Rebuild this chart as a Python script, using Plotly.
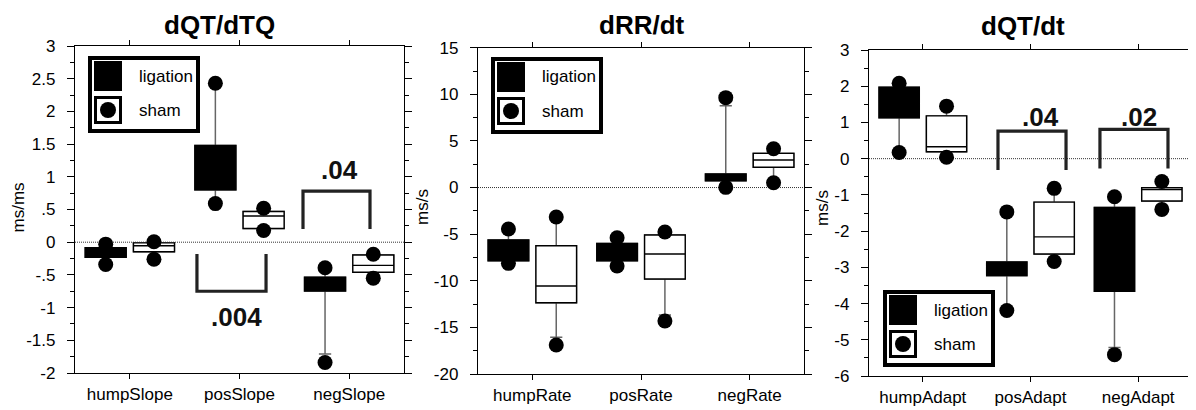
import plotly.graph_objects as go

# the page body adds an 8px offset; the figure is sized so it fills the window
OX, OY = 8, 8
W, H = 1196 - OX, 410 - OY
FONT = "Liberation Sans, Arial, sans-serif"

# ---------------- data ----------------
titles = ["dQT/dTQ", "dRR/dt", "dQT/dt"]
y_titles = ["ms/ms", "ms/s", "ms/s"]

cats_1 = ["humpSlope", "posSlope", "negSlope"]
cats_2 = ["humpRate", "posRate", "negRate"]
cats_3 = ["humpAdapt", "posAdapt", "negAdapt"]

# panel 1 : dQT/dTQ
lig1_q1 = [-0.23, 0.80, -0.746]
lig1_med = [-0.16, 1.10, -0.64]
lig1_q3 = [-0.085, 1.48, -0.537]
lig1_wlo = [-0.34, 0.59, -1.71]
lig1_whi = [-0.03, 2.43, -0.40]
lig1_dlo = [-0.34, 0.59, -1.84]
lig1_dhi = [-0.03, 2.43, -0.39]
sham1_q1 = [-0.145, 0.21, -0.46]
sham1_med = [-0.055, 0.40, -0.354]
sham1_q3 = [-0.01, 0.47, -0.196]
sham1_wlo = [-0.26, 0.18, -0.55]
sham1_whi = [0.007, 0.52, -0.185]
sham1_dlo = [-0.26, 0.18, -0.55]
sham1_dhi = [0.007, 0.52, -0.185]

# panel 2 : dRR/dt
lig2_q1 = [-7.85, -7.85, 0.73]
lig2_med = [-6.8, -7.0, 1.1]
lig2_q3 = [-5.63, -5.99, 1.45]
lig2_wlo = [-8.13, -8.42, 0.02]
lig2_whi = [-4.45, -5.38, 8.78]
lig2_dlo = [-8.13, -8.42, 0.02]
lig2_dhi = [-4.45, -5.38, 9.64]
sham2_q1 = [-12.35, -9.81, 2.17]
sham2_med = [-10.56, -7.13, 2.95]
sham2_q3 = [-6.24, -5.09, 3.67]
sham2_wlo = [-16.07, -13.67, 0.51]
sham2_whi = [-3.16, -4.77, 4.16]
sham2_dlo = [-16.89, -14.32, 0.51]
sham2_dhi = [-3.16, -4.77, 4.16]

# panel 3 : dQT/dt
lig3_q1 = [1.13, -3.23, -3.66]
lig3_med = [1.5, -3.0, -2.5]
lig3_q3 = [1.97, -2.85, -1.35]
lig3_wlo = [0.17, -4.19, -5.21]
lig3_whi = [2.08, -1.47, -1.05]
lig3_dlo = [0.17, -4.19, -5.41]
lig3_dhi = [2.08, -1.47, -1.05]
sham3_q1 = [0.19, -2.63, -1.17]
sham3_med = [0.33, -2.16, -0.85]
sham3_q3 = [1.18, -1.20, -0.80]
sham3_wlo = [0.04, -2.84, -1.40]
sham3_whi = [1.45, -0.82, -0.63]
sham3_dlo = [0.04, -2.84, -1.40]
sham3_dhi = [1.45, -0.82, -0.63]

# y tick labels
yt1_vals = [3, 2.5, 2, 1.5, 1, 0.5, 0, -0.5, -1, -1.5, -2]
yt1_text = ["3", "2.5", "2", "1.5", "1", ".5", "0", "-.5", "-1", "-1.5", "-2"]
yt2_vals = [15, 10, 5, 0, -5, -10, -15, -20]
yt2_text = ["15", "10", "5", "0", "-5", "-10", "-15", "-20"]
yt3_vals = [3, 2, 1, 0, -1, -2, -3, -4, -5, -6]
yt3_text = ["3", "2", "1", "0", "-1", "-2", "-3", "-4", "-5", "-6"]

# significance labels
sig1_labels = [".004", ".04"]
sig3_labels = [".04", ".02"]

# ---------------- layout config ----------------
panels = [
    dict(cats=cats_1, geom=(75, 404, 46, 373), yr=(-2, 3), minor=0.25,
         tv=yt1_vals, tt=yt1_text,
         lig=(lig1_q1, lig1_med, lig1_q3, lig1_wlo, lig1_whi, lig1_dlo, lig1_dhi),
         sham=(sham1_q1, sham1_med, sham1_q3, sham1_wlo, sham1_whi, sham1_dlo, sham1_dhi),
         title_px=(219, 25), ytitle_px=(8, 208, "left"), legend_px=(88, 56),
         brackets=[dict(x0=0.612, x1=1.242, ye=-0.18, yb=-0.75, lx=0.97, ly=-1.14),
                   dict(x0=1.579, x1=2.19, ye=0.2, yb=0.78, lx=1.916, ly=1.11)],
         sig=sig1_labels),
    dict(cats=cats_2, geom=(478, 804, 47.7, 374), yr=(-20, 15), minor=2.5,
         tv=yt2_vals, tt=yt2_text,
         lig=(lig2_q1, lig2_med, lig2_q3, lig2_wlo, lig2_whi, lig2_dlo, lig2_dhi),
         sham=(sham2_q1, sham2_med, sham2_q3, sham2_wlo, sham2_whi, sham2_dlo, sham2_dhi),
         title_px=(642, 25), ytitle_px=(422, 207, "center"), legend_px=(491, 57),
         brackets=[], sig=[]),
    dict(cats=cats_3, geom=(869, 1192, 50, 376), yr=(-6, 3), minor=0.5,
         tv=yt3_vals, tt=yt3_text,
         lig=(lig3_q1, lig3_med, lig3_q3, lig3_wlo, lig3_whi, lig3_dlo, lig3_dhi),
         sham=(sham3_q1, sham3_med, sham3_q3, sham3_wlo, sham3_whi, sham3_dlo, sham3_dhi),
         title_px=(1023, 26), ytitle_px=(823, 208, "center"), legend_px=(883, 290),
         brackets=[dict(x0=0.698, x1=1.33, ye=-0.31, yb=0.76, lx=1.093, ly=1.14),
                   dict(x0=1.645, x1=2.277, ye=-0.27, yb=0.81, lx=2.008, ly=1.14)],
         sig=sig3_labels),
]

OFFSET = 0.22
BOXW = 0.374

fig = go.Figure()
shapes = []
annotations = []


def px(xp):
    return (xp - OX) / W


def py(yp):
    return 1 - (yp - OY) / H


layout = dict(template="none", width=W, height=H, margin=dict(l=0, r=0, t=0, b=0, pad=0),
              paper_bgcolor="white", plot_bgcolor="white", showlegend=False,
              boxmode="overlay", font=dict(family=FONT, size=17, color="black"))

for i, p in enumerate(panels):
    sfx = "" if i == 0 else str(i + 1)
    xa, ya = "x" + sfx, "y" + sfx
    l, r, t, b = p["geom"]
    layout["xaxis" + sfx] = dict(
        domain=[px(l), px(r)], range=[-0.5, 2.5], anchor=ya, automargin=False,
        tickmode="array", tickvals=[0, 1, 2], ticktext=p["cats"],
        ticks="outside", ticklen=5, tickwidth=1.2, tickcolor="black",
        mirror="ticks", showline=True, linecolor="black", linewidth=1.3,
        showgrid=False, zeroline=False, tickfont=dict(size=17),
        ticklabelstandoff=0)
    layout["yaxis" + sfx] = dict(
        domain=[py(b), py(t)], range=list(p["yr"]), anchor=xa, automargin=False,
        tickmode="array", tickvals=p["tv"], ticktext=p["tt"],
        ticks="outside", ticklen=7, tickwidth=1.2, tickcolor="black",
        minor=dict(tick0=0, dtick=p["minor"], ticks="outside", ticklen=4,
                   tickwidth=1.2, tickcolor="black", showgrid=False),
        mirror="ticks", showline=True, linecolor="black", linewidth=1.3,
        showgrid=False, zeroline=False, tickfont=dict(size=17),
        ticklabelstandoff=8)

    n = len(p["cats"])
    for grp, off, fill in (("lig", -OFFSET, "black"), ("sham", OFFSET, "white")):
        q1, med, q3, wlo, whi, dlo, dhi = p[grp]
        xs = [k + off for k in range(n)]
        # whiskers (grey)
        fig.add_trace(go.Box(x=xs, q1=q1, median=med, q3=q3,
                             lowerfence=wlo, upperfence=whi, width=BOXW,
                             whiskerwidth=0.3, boxpoints=False,
                             line=dict(color="#666666", width=1.5),
                             fillcolor=fill, xaxis=xa, yaxis=ya, hoverinfo="skip"))
        # box (black outline)
        fig.add_trace(go.Box(x=xs, q1=q1, median=med, q3=q3,
                             lowerfence=q1, upperfence=q3, width=BOXW,
                             whiskerwidth=0, boxpoints=False,
                             line=dict(color="black", width=1.4),
                             fillcolor=fill, xaxis=xa, yaxis=ya, hoverinfo="skip"))
    for grp, off in (("lig", -OFFSET), ("sham", OFFSET)):
        q1, med, q3, wlo, whi, dlo, dhi = p[grp]
        xs = [k + off for k in range(n)]
        fig.add_trace(go.Scatter(x=xs + xs, y=dlo + dhi, mode="markers",
                                 marker=dict(color="black", size=15, line=dict(width=0)),
                                 xaxis=xa, yaxis=ya, hoverinfo="skip"))

    # zero reference line
    shapes.append(dict(type="line", xref=xa + " domain", yref=ya, x0=0, x1=1, y0=0, y1=0,
                       line=dict(color="#333333", width=1, dash="1px,1px"), layer="below"))

    # brackets
    for br, lab in zip(p["brackets"], p["sig"]):
        path = "M {x0},{ye} L {x0},{yb} L {x1},{yb} L {x1},{ye}".format(**br)
        shapes.append(dict(type="path", path=path, xref=xa, yref=ya,
                           line=dict(color="#222222", width=3.2)))
        annotations.append(dict(text="<b>%s</b>" % lab, x=br["lx"], y=br["ly"],
                                xref=xa, yref=ya, showarrow=False,
                                font=dict(size=26, color="#111111"),
                                xanchor="center", yanchor="middle"))

    # title
    tx, ty = p["title_px"]
    annotations.append(dict(text="<b>%s</b>" % titles[i], x=px(tx), y=py(ty),
                            xref="paper", yref="paper", showarrow=False,
                            font=dict(size=26), xanchor="center", yanchor="middle"))
    # y title
    yx, yy, yanc = p["ytitle_px"]
    annotations.append(dict(text=y_titles[i], x=px(yx), y=py(yy), xref="paper",
                            yref="paper", showarrow=False, textangle=-90, borderpad=0,
                            font=dict(size=17), xanchor=yanc, yanchor="middle"))

    # legend box
    lx0, ly0 = p["legend_px"]
    def rect(x0, y0, x1, y1, **kw):
        d = dict(type="rect", xref="paper", yref="paper", x0=px(lx0 + x0), x1=px(lx0 + x1),
                 y0=py(ly0 + y0), y1=py(ly0 + y1), layer="above")
        d.update(kw)
        return d
    shapes.append(rect(2, 2, 110, 75, line=dict(color="black", width=4), fillcolor="white"))
    shapes.append(rect(6, 5, 34, 35, line=dict(width=0), fillcolor="black"))
    shapes.append(rect(7.5, 41.5, 32.5, 66.5, line=dict(color="black", width=3), fillcolor="white"))
    c = rect(12, 46, 28, 62, line=dict(width=0), fillcolor="black")
    c["type"] = "circle"
    shapes.append(c)
    for txt, oy in (("ligation", 20), ("sham", 54)):
        annotations.append(dict(text=txt, x=px(lx0 + 49), y=py(ly0 + oy), xref="paper",
                                yref="paper", showarrow=False, font=dict(size=17),
                                xanchor="left", yanchor="middle"))

layout["shapes"] = shapes
layout["annotations"] = annotations
fig.update_layout(**layout)
fig.write_html("out.html")
